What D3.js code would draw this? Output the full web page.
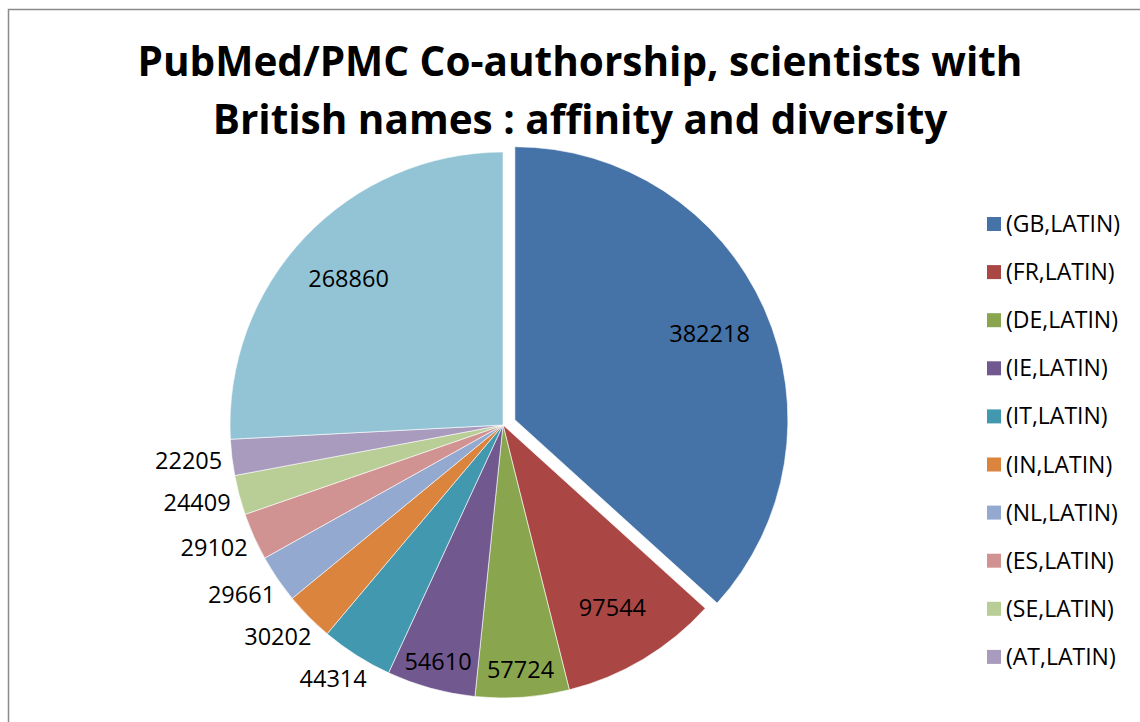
<!DOCTYPE html>
<html>
<head>
<meta charset="utf-8">
<script src="https://cdn.jsdelivr.net/npm/d3@7"></script>
<style>
  body { margin: 0; background: #fff; }
  svg { display: block; }
  text { font-family: "Open Sans", "DejaVu Sans", sans-serif; fill: #000; }
</style>
</head>
<body>
<div id="chart"></div>
<script>
// slice data, clockwise from 12 o'clock
var categories = ["(GB,LATIN)", "(FR,LATIN)", "(DE,LATIN)", "(IE,LATIN)", "(IT,LATIN)",
                  "(IN,LATIN)", "(NL,LATIN)", "(ES,LATIN)", "(SE,LATIN)", "(AT,LATIN)", "other"];
var values = [382218, 97544, 57724, 54610, 44314, 30202, 29661, 29102, 24409, 22205, 268860];
var colors = ["#4572A7", "#AA4643", "#89A54E", "#71588F", "#4198AF",
              "#DB843D", "#93A9CF", "#D19392", "#B9CD96", "#A99BBD", "#93C4D5"];
var legendCount = 10;   // the last slice has no legend entry
var explodeIdx = 0;

var titleLines = ["PubMed/PMC Co-authorship, scientists with",
                  "British names : affinity and diversity"];

var width = 1140, height = 722;
var cx = 503, cy = 425, radius = 273;

var svg = d3.select("#chart").append("svg")
    .attr("width", width)
    .attr("height", height);

// chart frame (runs off the right and bottom edges)
svg.append("rect")
    .attr("x", 8.5).attr("y", 9.5)
    .attr("width", 1200).attr("height", 800)
    .attr("fill", "none")
    .attr("stroke", "#8a8a8a")
    .attr("stroke-width", 1.5);

// title
svg.append("g").selectAll("text")
    .data(titleLines)
    .enter().append("text")
    .attr("x", 580)
    .attr("y", function(d, i) { return 76 + i * 58; })
    .attr("text-anchor", "middle")
    .style("font-size", "40.5px")
    .style("font-weight", "700")
    .text(function(d) { return d; });

var pie = d3.pie().sort(null).value(function(d) { return d; });
var arcs = pie(values);
var arc = d3.arc().innerRadius(0).outerRadius(radius);

var g = svg.append("g").attr("transform", "translate(" + cx + "," + cy + ")");

function offsetOf(d, i) {
  if (i !== explodeIdx) return [0, 0];
  var mid = (d.startAngle + d.endAngle) / 2;
  return [13 * Math.sin(mid), -13 * Math.cos(mid)];
}

g.selectAll("path.slice")
    .data(arcs)
    .enter().append("path")
    .attr("class", "slice")
    .attr("d", arc)
    .attr("transform", function(d, i) { var o = offsetOf(d, i); return "translate(" + o[0] + "," + o[1] + ")"; })
    .attr("fill", function(d, i) { return colors[i]; })
    .attr("stroke", "#fff")
    .attr("stroke-width", 0.6);

// data labels: inside for wide slices, outside for narrow ones
var labelSize = 23.5;
g.selectAll("text.lbl")
    .data(arcs)
    .enter().append("text")
    .attr("class", "lbl")
    .style("font-size", labelSize + "px")
    .attr("dy", "0.35em")
    .each(function(d, i) {
      var span = (d.endAngle - d.startAngle) * 180 / Math.PI;
      var mid = (d.startAngle + d.endAngle) / 2;
      var sx = Math.sin(mid), sy = -Math.cos(mid);
      var o = offsetOf(d, i);
      var el = d3.select(this).text(d.data);
      if (span >= 16) {
        var f = span > 25 ? 0.78 : 0.9;
        el.attr("text-anchor", "middle")
          .attr("x", o[0] + sx * radius * f)
          .attr("y", o[1] + sy * radius * f);
      } else {
        var w = this.getComputedTextLength();
        var r0 = radius + 10;
        el.attr("text-anchor", "middle")
          .attr("x", sx * r0 + sx * w / 2)
          .attr("y", sy * r0 + sy * 18);
      }
    });

// legend
var legend = svg.append("g").attr("transform", "translate(987,224)");
var item = legend.selectAll("g")
    .data(categories.slice(0, legendCount))
    .enter().append("g")
    .attr("transform", function(d, i) { return "translate(0," + (i * 48.1) + ")"; });
item.append("rect")
    .attr("x", 0).attr("y", -7)
    .attr("width", 14).attr("height", 14)
    .attr("fill", function(d, i) { return colors[i]; });
item.append("text")
    .attr("x", 19).attr("y", 0)
    .attr("dy", "0.35em")
    .style("font-size", "23px")
    .text(function(d) { return d; });
</script>
</body>
</html>
